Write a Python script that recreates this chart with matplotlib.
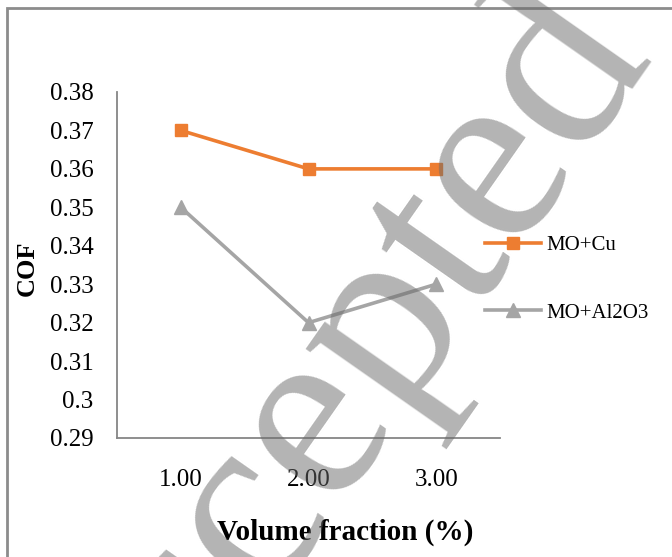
import matplotlib.pyplot as plt
from matplotlib.patches import Rectangle

plt.rcParams["font.family"] = ["Liberation Serif", "DejaVu Serif"]

# data
fractions = ["1.00", "2.00", "3.00"]
cof_cu = [0.37, 0.36, 0.36]
cof_al2o3 = [0.35, 0.32, 0.33]
yticks = [0.29, 0.30, 0.31, 0.32, 0.33, 0.34, 0.35, 0.36, 0.37, 0.38]
ytick_labels = ["0.29", "0.3", "0.31", "0.32", "0.33", "0.34", "0.35", "0.36", "0.37", "0.38"]

W, H = 672, 557
fig = plt.figure(figsize=(W / 100, H / 100), dpi=100)
ax = fig.add_axes([117 / W, 1 - 438 / H, (500 - 117) / W, (438 - 92) / H])

x = range(1, len(fractions) + 1)
orange = "#ED7D31"
grey = "#A5A5A5"
ax.plot(x, cof_cu, color=orange, lw=2.6, marker="s", ms=9, label="MO+Cu")
ax.plot(x, cof_al2o3, color=grey, lw=2.6, marker="^", ms=10, label="MO+Al2O3")

ax.set_xlim(0.5, len(fractions) + 0.5)
ax.set_ylim(0.29, 0.38)
ax.set_xticks(list(x))
ax.set_xticklabels(fractions)
ax.set_yticks(yticks)
ax.set_yticklabels(ytick_labels)
ax.tick_params(axis="both", length=0, labelsize=18)
ax.tick_params(axis="x", pad=22)
ax.tick_params(axis="y", pad=17)

for side in ("top", "right"):
    ax.spines[side].set_visible(False)
for side in ("left", "bottom"):
    ax.spines[side].set_color("#868686")
    ax.spines[side].set_linewidth(1.3)

ax.set_xlabel("Volume fraction (%)", fontsize=21, fontweight="bold")
ax.xaxis.set_label_coords((345 - 117) / (500 - 117), -(519 - 438) / (438 - 92))
ax.set_ylabel("COF", fontsize=19, fontweight="bold")
ax.yaxis.set_label_coords(-(117 - 39) / (500 - 117), 0.49)

# legend sits outside the plot area, right side
fig.legend(
    loc="center left",
    bbox_to_anchor=(466 / W, 1 - 279 / H),
    frameon=False,
    fontsize=15,
    handlelength=2.7,
    labelspacing=2.3,
    handletextpad=0.25,
)

# outer frame
fig.patches.append(
    Rectangle((7 / W, -0.1), 1.2, 1 - 8 / H + 0.1, transform=fig.transFigure,
              fill=False, edgecolor="#8C8C8C", lw=2, zorder=0)
)

# watermark
fig.text(324 / W, 1 - 418 / H, "Accepted", fontsize=185, color="#696969", alpha=0.5,
         rotation=55, ha="center", va="center", rotation_mode="anchor", zorder=10)

fig.savefig("out.png", dpi=100)
